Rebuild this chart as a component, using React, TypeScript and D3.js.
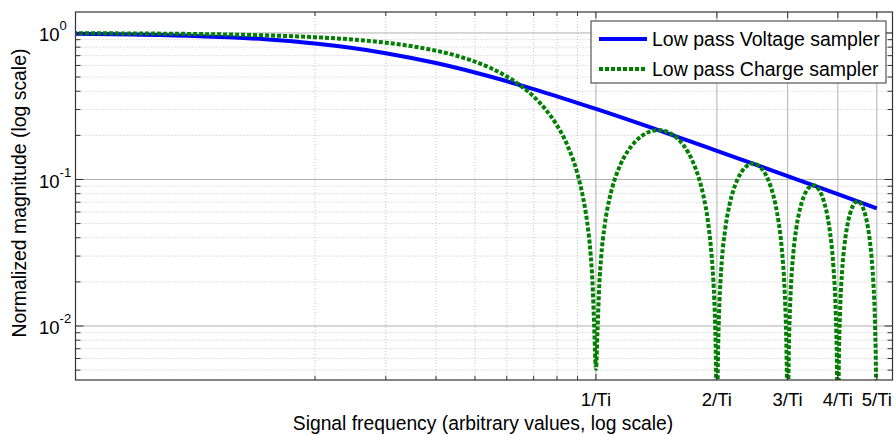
import * as d3 from 'd3';

// (frequency in units of 1/Ti)
const voltageFreq = [0.05, 0.07, 0.1, 0.15, 0.2, 0.3, 0.4, 0.5, 0.7, 1, 1.5, 2, 3, 4, 5];
const voltageMag = [0.988, 0.977, 0.954, 0.905, 0.847, 0.728, 0.623, 0.537, 0.414, 0.303, 0.2075, 0.157, 0.1055, 0.0794, 0.0635];

const chargeFreq = [
  0.05, 0.1, 0.15, 0.2, 0.25, 0.3, 0.35, 0.4, 0.45, 0.5, 0.55, 0.6, 0.65, 0.7, 0.75, 0.8, 0.85, 0.9, 0.93, 0.95, 0.97, 0.98, 0.99, 1.0,
  1.01, 1.02, 1.03, 1.05, 1.08, 1.1, 1.15, 1.2, 1.25, 1.3, 1.35, 1.4, 1.45, 1.5, 1.55, 1.6, 1.65, 1.7, 1.75, 1.8, 1.85, 1.9, 1.93, 1.95, 1.97, 1.98, 1.99, 2.0,
  2.01, 2.02, 2.03, 2.05, 2.1, 2.15, 2.2, 2.25, 2.3, 2.35, 2.4, 2.45, 2.5, 2.55, 2.6, 2.65, 2.7, 2.75, 2.8, 2.85, 2.9, 2.95, 2.97, 2.98, 2.99, 3.0,
  3.01, 3.02, 3.03, 3.05, 3.1, 3.15, 3.2, 3.25, 3.3, 3.35, 3.4, 3.45, 3.5, 3.55, 3.6, 3.65, 3.7, 3.75, 3.8, 3.85, 3.9, 3.95, 3.98, 3.99, 4.0,
  4.01, 4.02, 4.05, 4.1, 4.15, 4.2, 4.25, 4.3, 4.35, 4.4, 4.45, 4.5, 4.55, 4.6, 4.65, 4.7, 4.75, 4.8, 4.85, 4.9, 4.95, 4.98, 5.0,
];
const chargeMag = [
  0.996, 0.984, 0.963, 0.936, 0.900, 0.858, 0.810, 0.757, 0.699, 0.637, 0.572, 0.505, 0.436, 0.368, 0.300, 0.234, 0.170, 0.109, 0.0741, 0.0524, 0.0309, 0.0204, 0.0101, 0.0051,
  0.0099, 0.0196, 0.0291, 0.0474, 0.0733, 0.0894, 0.1257, 0.1559, 0.1801, 0.1981, 0.2101, 0.2162, 0.2168, 0.2122, 0.2028, 0.1892, 0.1719, 0.1515, 0.1286, 0.1039, 0.0781, 0.0518, 0.0357, 0.0255, 0.0152, 0.0101, 0.00502, 0.001,
  0.00497, 0.0099, 0.01476, 0.0243, 0.0468, 0.0672, 0.085, 0.1, 0.112, 0.1207, 0.1261, 0.1283, 0.1273, 0.1233, 0.1164, 0.107, 0.0954, 0.0818, 0.0668, 0.0507, 0.0339, 0.0169, 0.0101, 0.0067, 0.00334, 0.001,
  0.00332, 0.00662, 0.00989, 0.0163, 0.0317, 0.0459, 0.0585, 0.0693, 0.078, 0.0847, 0.089, 0.0911, 0.0909, 0.0886, 0.0841, 0.0777, 0.0696, 0.06, 0.0492, 0.0375, 0.0252, 0.0126, 0.00502, 0.00251, 0.001,
  0.00249, 0.00497, 0.0123, 0.024, 0.0348, 0.0445, 0.053, 0.0599, 0.0652, 0.0688, 0.0707, 0.0707, 0.0691, 0.0658, 0.061, 0.0548, 0.0474, 0.039, 0.0298, 0.0201, 0.0101, 0.00401, 0.001,
];

const xTickValues = [1, 2, 3, 4, 5];
const xTickLabels = ['1/Ti', '2/Ti', '3/Ti', '4/Ti', '5/Ti'];
const xMinorValues = [0.2, 0.3, 0.4, 0.5, 0.6, 0.7, 0.8, 0.9];
const yTickValues = [1, 0.1, 0.01];
const yTickExponents = ['0', '-1', '-2'];
const yMinorValues = [
  0.005, 0.006, 0.007, 0.008, 0.009,
  0.02, 0.03, 0.04, 0.05, 0.06, 0.07, 0.08, 0.09,
  0.2, 0.3, 0.4, 0.5, 0.6, 0.7, 0.8, 0.9,
];
const seriesNames = ['Low pass Voltage sampler', 'Low pass Charge sampler'];

const W = 894;
const H = 435;
const left = 75.5;
const right = 892.5;
const top = 12;
const bottom = 380;
const font = '"Liberation Sans", Arial, Helvetica, sans-serif';
const axisColor = '#333';
const dots = '4 2';

export default function App() {
  const x = d3.scaleLog().domain([0.0507, 5.47]).range([left, right]);
  const y = d3.scaleLog().domain([0.00428, 1.39]).range([bottom, top]);

  const line = d3.line<[number, number]>()
    .x(d => x(d[0]))
    .y(d => y(d[1]))
    .curve(d3.curveMonotoneX);

  const voltagePath = line(voltageFreq.map((f, i) => [f, voltageMag[i]]) as [number, number][]) || '';
  const chargePath = line(chargeFreq.map((f, i) => [f, chargeMag[i]]) as [number, number][]) || '';

  return (
    <svg width={W} height={H} style={{ position: 'absolute', left: 0, top: 0, background: '#fff' }} fontFamily={font}>
      <defs>
        <clipPath id="plot">
          <rect x={left} y={top} width={right - left} height={bottom - top} />
        </clipPath>
      </defs>
      <rect x={0} y={0} width={W} height={H} fill="#fff" />

      {/* minor grid */}
      <g stroke="#c4c4c4" strokeWidth={1} strokeDasharray="1 2">
        {xMinorValues.map(v => (
          <line key={'xm' + v} x1={x(v)} x2={x(v)} y1={top} y2={bottom} />
        ))}
        {yMinorValues.map(v => (
          <line key={'ym' + v} x1={left} x2={right} y1={y(v)} y2={y(v)} />
        ))}
      </g>
      {/* major grid */}
      <g stroke="#b0b0b0" strokeWidth={1}>
        {xTickValues.map(v => (
          <line key={'xg' + v} x1={x(v)} x2={x(v)} y1={top} y2={bottom} />
        ))}
        {yTickValues.map(v => (
          <line key={'yg' + v} x1={left} x2={right} y1={y(v)} y2={y(v)} />
        ))}
      </g>

      <g clipPath="url(#plot)" fill="none">
        <path d={voltagePath} stroke="#0000ff" strokeWidth={4} />
        <path d={chargePath} stroke="#008000" strokeWidth={4} strokeDasharray={dots} />
      </g>

      {/* axes box */}
      <rect x={left} y={top} width={right - left} height={bottom - top} fill="none" stroke={axisColor} strokeWidth={1.2} />

      {/* ticks */}
      <g stroke={axisColor} strokeWidth={1}>
        {xTickValues.map(v => (
          <g key={'xt' + v}>
            <line x1={x(v)} x2={x(v)} y1={bottom} y2={bottom - 6} />
            <line x1={x(v)} x2={x(v)} y1={top} y2={top + 6} />
          </g>
        ))}
        {xMinorValues.map(v => (
          <g key={'xmt' + v}>
            <line x1={x(v)} x2={x(v)} y1={bottom} y2={bottom - 4} />
            <line x1={x(v)} x2={x(v)} y1={top} y2={top + 4} />
          </g>
        ))}
        {yTickValues.map(v => (
          <g key={'yt' + v}>
            <line x1={left} x2={left + 8} y1={y(v)} y2={y(v)} />
            <line x1={right} x2={right - 8} y1={y(v)} y2={y(v)} />
          </g>
        ))}
        {yMinorValues.map(v => (
          <g key={'ymt' + v}>
            <line x1={left} x2={left + 5} y1={y(v)} y2={y(v)} />
            <line x1={right} x2={right - 5} y1={y(v)} y2={y(v)} />
          </g>
        ))}
      </g>

      {/* tick labels */}
      <g fontSize={18.5} fill="#000">
        {xTickValues.map((v, i) => (
          <text key={'xl' + v} x={x(v)} y={406} textAnchor="middle">{xTickLabels[i]}</text>
        ))}
        {yTickValues.map((v, i) => (
          <text key={'yl' + v} x={39} y={y(v) + 8.5}>
            10<tspan fontSize={13} dy={-11}>{yTickExponents[i]}</tspan>
          </text>
        ))}
      </g>

      {/* axis titles */}
      <text x={(left + right) / 2 - 1} y={430} textAnchor="middle" fontSize={19.3}>
        Signal frequency (arbitrary values, log scale)
      </text>
      <text transform={`translate(26,${(top + bottom) / 2 - 3}) rotate(-90)`} textAnchor="middle" fontSize={19.4}>
        Normalized magnitude (log scale)
      </text>

      {/* legend */}
      <g>
        <rect x={591} y={21} width={295} height={62} fill="#fff" stroke={axisColor} strokeWidth={1} />
        <line x1={599} x2={647} y1={39} y2={39} stroke="#0000ff" strokeWidth={4} />
        <line x1={599} x2={647} y1={69} y2={69} stroke="#008000" strokeWidth={4} strokeDasharray={dots} />
        <text x={652} y={46} fontSize={19.5}>{seriesNames[0]}</text>
        <text x={652} y={76} fontSize={19.5}>{seriesNames[1]}</text>
      </g>
    </svg>
  );
}
